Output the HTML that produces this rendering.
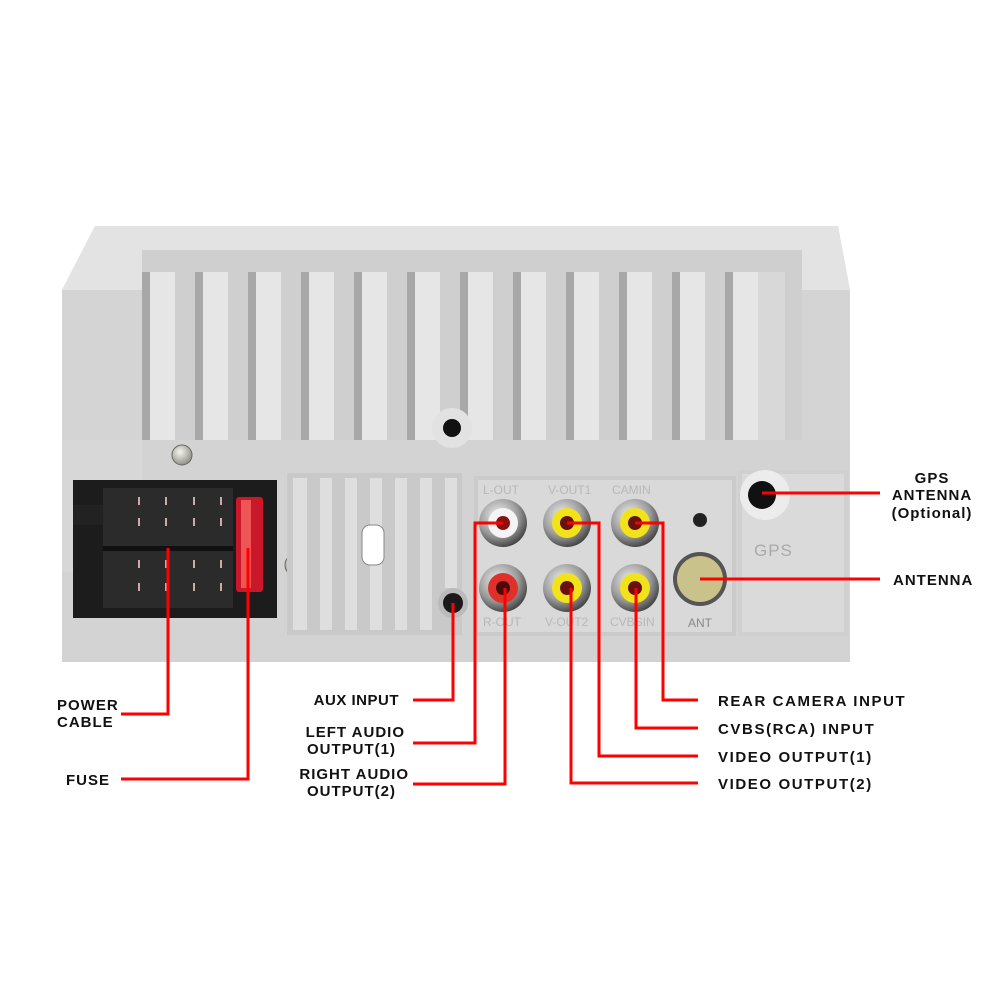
<!DOCTYPE html>
<html><head><meta charset="utf-8"><style>
html,body{margin:0;padding:0;background:#fff;}
svg{display:block;}
text{font-family:"Liberation Sans",Arial,sans-serif;font-weight:bold;font-size:15px;fill:#111;letter-spacing:1px;}
.s{font-size:12px;fill:#b8b8b8;font-weight:normal;letter-spacing:0;}
</style></head><body>
<svg width="1000" height="1000" viewBox="0 0 1000 1000">
<defs>
<radialGradient id="met" cx="40%" cy="35%" r="70%"><stop offset="0" stop-color="#f2f2f2"/><stop offset="0.6" stop-color="#9a9a9a"/><stop offset="1" stop-color="#3a3a3a"/></radialGradient>
<radialGradient id="scr" cx="40%" cy="35%" r="70%"><stop offset="0" stop-color="#f5f5f0"/><stop offset="1" stop-color="#8a8a80"/></radialGradient>
</defs>
<!-- body -->
<polygon points="95,226 838,226 850,290 850,662 62,662 62,290" fill="#d9d9d9"/>
<polygon points="95,226 838,226 850,290 62,290" fill="#e3e3e3"/>
<rect x="62" y="290" width="788" height="372" fill="#d4d4d4"/>
<!-- fins -->
<g id="fins">
<rect x="142" y="250" width="660" height="325" fill="#cfcfcf"/>
</g>
<g fill="#e6e6e6">
<rect x="150" y="272" width="25" height="300"/><rect x="203" y="272" width="25" height="300"/><rect x="256" y="272" width="25" height="300"/><rect x="309" y="272" width="25" height="300"/><rect x="362" y="272" width="25" height="300"/><rect x="415" y="272" width="25" height="300"/><rect x="468" y="272" width="25" height="300"/><rect x="521" y="272" width="25" height="300"/><rect x="574" y="272" width="25" height="300"/><rect x="627" y="272" width="25" height="300"/><rect x="680" y="272" width="25" height="300"/><rect x="733" y="272" width="25" height="300"/>
</g>
<g fill="#a8a8a8">
<rect x="142" y="272" width="8" height="300"/><rect x="195" y="272" width="8" height="300"/><rect x="248" y="272" width="8" height="300"/><rect x="301" y="272" width="8" height="300"/><rect x="354" y="272" width="8" height="300"/><rect x="407" y="272" width="8" height="300"/><rect x="460" y="272" width="8" height="300"/><rect x="513" y="272" width="8" height="300"/><rect x="566" y="272" width="8" height="300"/><rect x="619" y="272" width="8" height="300"/><rect x="672" y="272" width="8" height="300"/><rect x="725" y="272" width="8" height="300"/>
</g>
<rect x="62" y="440" width="788" height="222" fill="#d3d3d3"/>
<rect x="142" y="572" width="0" height="0"/>
<polygon points="62,440 142,440 142,572 62,572" fill="#d7d7d7"/>
<polygon points="758,272 785,272 785,440 758,440" fill="#d8d8d8"/>
<!-- center hole boss -->
<circle cx="452" cy="428" r="20" fill="#e2e2e2"/>
<circle cx="452" cy="428" r="9" fill="#111"/>
<!-- screws -->
<circle cx="182" cy="455" r="10" fill="url(#scr)" stroke="#666"/>
<circle cx="296" cy="565" r="11" fill="url(#scr)" stroke="#666"/>
<circle cx="413" cy="570" r="11" fill="url(#scr)" stroke="#666"/>
<circle cx="537" cy="552" r="10" fill="url(#scr)" stroke="#777"/>
<circle cx="602" cy="552" r="10" fill="url(#scr)" stroke="#777"/>
<!-- middle slotted panel -->
<rect x="287" y="473" width="175" height="162" fill="#c9c9c9"/>
<g fill="#dedede">
<rect x="293" y="478" width="14" height="152"/><rect x="320" y="478" width="12" height="152"/><rect x="345" y="478" width="12" height="152"/><rect x="370" y="478" width="12" height="152"/><rect x="395" y="478" width="12" height="152"/><rect x="420" y="478" width="12" height="152"/><rect x="445" y="478" width="12" height="110"/>
</g>
<rect x="362" y="525" width="22" height="40" rx="8" fill="#fff" stroke="#888"/>
<circle cx="453" cy="603" r="15" fill="#bbb"/><circle cx="453" cy="603" r="10" fill="#1a1a1a"/>
<!-- connector -->
<rect x="73" y="480" width="204" height="138" fill="#1c1c1c"/>
<rect x="103" y="488" width="130" height="120" fill="#2b2b2b"/>
<rect x="103" y="546" width="130" height="5" fill="#111"/>
<rect x="73" y="505" width="30" height="20" fill="#222"/>
<g fill="#caa">
<rect x="138" y="497" width="2" height="8"/><rect x="165" y="497" width="2" height="8"/><rect x="193" y="497" width="2" height="8"/><rect x="220" y="497" width="2" height="8"/>
<rect x="138" y="518" width="2" height="8"/><rect x="165" y="518" width="2" height="8"/><rect x="193" y="518" width="2" height="8"/><rect x="220" y="518" width="2" height="8"/>
<rect x="138" y="560" width="2" height="8"/><rect x="165" y="560" width="2" height="8"/><rect x="193" y="560" width="2" height="8"/><rect x="220" y="560" width="2" height="8"/>
<rect x="138" y="583" width="2" height="8"/><rect x="165" y="583" width="2" height="8"/><rect x="193" y="583" width="2" height="8"/><rect x="220" y="583" width="2" height="8"/>
</g>
<rect x="236" y="497" width="27" height="95" rx="3" fill="#c8182a"/>
<rect x="241" y="500" width="10" height="88" fill="#e55"/>
<!-- RCA recessed panel -->
<rect x="474" y="476" width="262" height="160" fill="#cbcbcb"/>
<rect x="478" y="480" width="254" height="152" fill="#d9d9d9"/>
<rect x="738" y="470" width="110" height="166" fill="#d0d0d0"/>
<rect x="742" y="474" width="102" height="158" fill="#dadada"/>
<text class="s" x="483" y="494">L-OUT</text><text class="s" x="548" y="494">V-OUT1</text><text class="s" x="612" y="494">CAMIN</text>
<text class="s" x="483" y="626">R-OUT</text><text class="s" x="545" y="626">V-OUT2</text><text class="s" x="610" y="626">CVBSIN</text>
<text class="s" x="688" y="627" style="fill:#888">ANT</text>
<text x="754" y="556" style="font-size:17px;fill:#aaa;font-weight:normal">GPS</text>
<!-- jacks -->
<g>
<circle cx="503" cy="523" r="24" fill="url(#met)"/><circle cx="503" cy="523" r="15" fill="#f4f4f4"/><circle cx="503" cy="523" r="7" fill="#8a1010"/>
<circle cx="567" cy="523" r="24" fill="url(#met)"/><circle cx="567" cy="523" r="15" fill="#f2e21a"/><circle cx="567" cy="523" r="7" fill="#6a1010"/>
<circle cx="635" cy="523" r="24" fill="url(#met)"/><circle cx="635" cy="523" r="15" fill="#f2e21a"/><circle cx="635" cy="523" r="7" fill="#6a1010"/>
<circle cx="503" cy="588" r="24" fill="url(#met)"/><circle cx="503" cy="588" r="15" fill="#e0302a"/><circle cx="503" cy="588" r="7" fill="#4a0a0a"/>
<circle cx="567" cy="588" r="24" fill="url(#met)"/><circle cx="567" cy="588" r="15" fill="#f2e21a"/><circle cx="567" cy="588" r="7" fill="#6a1010"/>
<circle cx="635" cy="588" r="24" fill="url(#met)"/><circle cx="635" cy="588" r="15" fill="#f2e21a"/><circle cx="635" cy="588" r="7" fill="#6a1010"/>
</g>
<circle cx="700" cy="520" r="7" fill="#222"/>
<circle cx="700" cy="579" r="27" fill="#555"/><circle cx="700" cy="579" r="23" fill="#c9c28a"/>
<circle cx="765" cy="495" r="25" fill="#ececec"/><circle cx="762" cy="495" r="14" fill="#111"/>
<!-- red leader lines -->
<g fill="none" stroke="#f00" stroke-width="3">
<polyline points="762,493 880,493"/>
<polyline points="700,579 880,579"/>
<polyline points="168,548 168,714 121,714"/>
<polyline points="248,548 248,779 121,779"/>
<polyline points="453,603 453,700 413,700"/>
<polyline points="503,523 475,523 475,743 413,743"/>
<polyline points="505,588 505,784 413,784"/>
<polyline points="567,523 599,523 599,756 698,756"/>
<polyline points="635,523 663,523 663,700 698,700"/>
<polyline points="636,588 636,728 698,728"/>
<polyline points="571,588 571,783 698,783"/>
</g>
<!-- labels -->
<text x="932" y="483" text-anchor="middle">GPS</text>
<text x="932" y="500" text-anchor="middle">ANTENNA</text>
<text x="932" y="518" text-anchor="middle">(Optional)</text>
<text x="893" y="585">ANTENNA</text>
<text x="57" y="710">POWER</text><text x="57" y="727">CABLE</text>
<text x="66" y="785">FUSE</text>
<text x="399" y="705" text-anchor="end" style="letter-spacing:0.5px">AUX INPUT</text>
<text x="405" y="737" text-anchor="end">LEFT AUDIO</text><text x="396" y="754" text-anchor="end">OUTPUT(1)</text>
<text x="409" y="779" text-anchor="end">RIGHT AUDIO</text><text x="396" y="796" text-anchor="end">OUTPUT(2)</text>
<text x="718" y="706" style="letter-spacing:1.6px">REAR CAMERA INPUT</text>
<text x="718" y="734" style="letter-spacing:1.6px">CVBS(RCA) INPUT</text>
<text x="718" y="762" style="letter-spacing:1.6px">VIDEO OUTPUT(1)</text>
<text x="718" y="789" style="letter-spacing:1.6px">VIDEO OUTPUT(2)</text>
</svg>
</body></html>
